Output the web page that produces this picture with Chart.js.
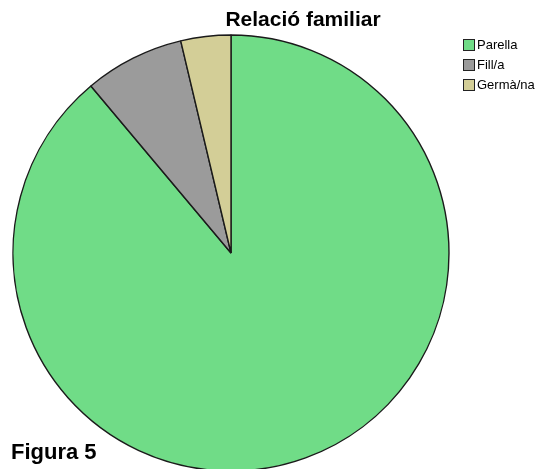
<!DOCTYPE html>
<html>
<head>
<meta charset="utf-8">
<script src="https://cdn.jsdelivr.net/npm/chart.js@4/dist/chart.umd.min.js"></script>
<style>
  body { margin: 0; background: #fff; }
  #wrap { position: relative; width: 546px; height: 469px; overflow: hidden; font-family: "Liberation Sans", Arial, sans-serif; }
  #my-chart { position: absolute; left: 0; top: 0; }
  .txt { position: absolute; line-height: 1; white-space: nowrap; color: #000; }
  #title { top: 8px; left: 0; width: 606px; text-align: center; font-size: 21px; font-weight: bold; }
  #caption { top: 441px; left: 11px; font-size: 22px; font-weight: bold; }
  .item { position: absolute; left: 463px; height: 14px; }
  .item span.box { position: absolute; left: 0; top: 0; width: 10px; height: 10px; border: 1px solid #222; }
  .item span.lbl { position: absolute; left: 14px; top: -1px; font-size: 13px; line-height: 1; }
</style>
</head>
<body>
<div id="wrap">
  <canvas id="my-chart" width="546" height="469"></canvas>
  <div id="title" class="txt">Relació familiar</div>
  <div id="caption" class="txt">Figura 5</div>
  <div id="legend"></div>
</div>
<script>
    // dades del gràfic
    const labels = ["Parella", "Fill/a", "Germà/na"];
    const values = [24, 2, 1];
    const colors = ["rgb(112, 220, 135)", "rgb(155, 155, 155)", "rgb(211, 206, 151)"];

    // llegenda a mà
    const legend = document.getElementById("legend");
    labels.forEach((name, i) => {
        const item = document.createElement("div");
        item.className = "item";
        item.style.top = (39 + i * 20) + "px";
        item.innerHTML = '<span class="box" style="background:' + colors[i] + '"></span><span class="lbl">' + name + "</span>";
        legend.appendChild(item);
    });

    const context = document.getElementById("my-chart");

    const chartData = {
        labels: labels,
        datasets: [
            {
                data: values,
                backgroundColor: colors,
                borderColor: "#1a1a1a",
                borderWidth: 1.4,
                clip: false,
            },
        ],
    };

    const config = {
        type: "pie",
        data: chartData,
        options: {
            responsive: false,
            animation: false,
            radius: 218,
            layout: { padding: { left: 13, right: 97, top: 37, bottom: 0 } },
            plugins: {
                legend: { display: false },
                title: { display: false },
                tooltip: { enabled: false },
            },
        },
    };

    const myChart = new Chart(context, config);
</script>
</body>
</html>
